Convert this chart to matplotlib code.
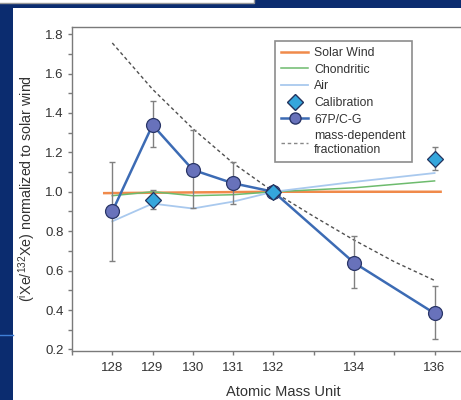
import matplotlib
matplotlib.use('Agg')
import matplotlib.pyplot as plt
from matplotlib.patches import Rectangle
from matplotlib.lines import Line2D
from matplotlib.ticker import MultipleLocator, FormatStrFormatter

plt.rcParams['font.family'] = ['Liberation Sans', 'DejaVu Sans']

# Xe isotope masses
masses = [128, 129, 130, 131, 132, 134, 136]

# reference compositions normalized to solar wind
solar_x = [127.8, 132, 136.15]
solar_y = [0.993, 1.0, 1.0]
chondritic = [0.98, 1.0, 0.98, 0.985, 1.0, 1.02, 1.055]
air = [0.85, 0.94, 0.915, 0.95, 1.0, 1.05, 1.095]

# calibration measurements
calib_x = [129, 132, 136]
calib_y = [0.958, 1.0, 1.165]
calib_lo = [0.913, 1.0, 1.108]
calib_hi = [1.009, 1.0, 1.226]

# 67P/C-G measurements
comet_y = [0.90, 1.339, 1.111, 1.043, 1.0, 0.640, 0.383]
comet_lo = [0.649, 1.226, 0.916, 0.937, 1.0, 0.513, 0.251]
comet_hi = [1.150, 1.463, 1.314, 1.153, 1.0, 0.777, 0.522]

# mass-dependent fractionation curve
frac_x = [128, 129, 130, 131, 132, 133, 134, 135, 136]
frac_y = [1.755, 1.52, 1.32, 1.145, 1.0, 0.875, 0.755, 0.645, 0.55]

navy = '#0b2c6f'
fig = plt.figure(figsize=(4.61, 4.0), dpi=100, facecolor=navy)

# slide background pieces
fig.patches.append(Rectangle((13 / 461, 0), 1, 1 - 8 / 400, transform=fig.transFigure,
                             facecolor='white', edgecolor='none', zorder=-10))
fig.patches.append(Rectangle((-0.01, 1 - 3 / 400), 259 / 461, 0.02, transform=fig.transFigure,
                             facecolor='white', edgecolor='#9a9a9a', linewidth=1, zorder=-10))
fig.lines.append(Line2D([0, 13 / 461], [1 - 335 / 400] * 2, transform=fig.transFigure,
                        color='#3f7fd6', linewidth=1))

ax = fig.add_axes([72 / 461, 49 / 400, 423 / 461, 324 / 400])
ax.set_facecolor('white')

ax.plot(frac_x, frac_y, color='#505050', linestyle=(0, (2.5, 2)), linewidth=1, zorder=2)
ax.plot(solar_x, solar_y, color='#f08a4b', linewidth=1.8, zorder=3)
ax.plot(masses, chondritic, color='#6dbb6d', linewidth=1.1, zorder=3)
ax.plot(masses, air, color='#a9c9ee', linewidth=1.3, zorder=3)

err_c = [[y - lo for y, lo in zip(calib_y, calib_lo)], [hi - y for y, hi in zip(calib_y, calib_hi)]]
ax.errorbar(calib_x, calib_y, yerr=err_c, fmt='none', ecolor='#808080', elinewidth=1,
            capsize=2.5, capthick=1, zorder=4)
ax.plot(calib_x, calib_y, linestyle='none', marker='D', markersize=8, markerfacecolor='#35a6dc',
        markeredgecolor='#23335e', markeredgewidth=0.9, zorder=7)

err_p = [[y - lo for y, lo in zip(comet_y, comet_lo)], [hi - y for y, hi in zip(comet_y, comet_hi)]]
ax.errorbar(masses, comet_y, yerr=err_p, fmt='none', ecolor='#808080', elinewidth=1,
            capsize=2.5, capthick=1, zorder=4)
ax.plot(masses, comet_y, color='#3c6bb4', linewidth=1.8, marker='o', markersize=10,
        markerfacecolor='#6872bb', markeredgecolor='#2a3668', markeredgewidth=0.9, zorder=6)

ax.set_xlim(127, 137.5)
ax.set_ylim(0.192, 1.836)
ax.set_xticks(masses)
ax.xaxis.set_minor_locator(MultipleLocator(1))
ax.yaxis.set_major_locator(MultipleLocator(0.2))
ax.yaxis.set_minor_locator(MultipleLocator(0.1))
ax.yaxis.set_major_formatter(FormatStrFormatter('%.1f'))

for s in ax.spines.values():
    s.set_color('#7a7a7a')
    s.set_linewidth(1)
ax.tick_params(which='both', direction='out', color='#7a7a7a', width=1, length=3,
               labelsize=9.5, labelcolor='#333333', pad=3)
ax.tick_params(axis='x', pad=5)

ax.set_ylabel(r'($^{\mathregular{i}}$Xe/$^{\mathregular{132}}$Xe) normalized to solar wind',
              fontsize=10.3, color='#333333', labelpad=6)
ax.set_xlabel('Atomic Mass Unit', fontsize=10.5, color='#333333', labelpad=8)

handles = [
    Line2D([], [], color='#f08a4b', linewidth=1.8),
    Line2D([], [], color='#6dbb6d', linewidth=1.1),
    Line2D([], [], color='#a9c9ee', linewidth=1.3),
    Line2D([], [], linestyle='none', marker='D', markersize=8, markerfacecolor='#35a6dc',
           markeredgecolor='#23335e'),
    Line2D([], [], color='#3c6bb4', linewidth=1.8, marker='o', markersize=8,
           markerfacecolor='#6872bb', markeredgecolor='#2a3668'),
    Line2D([], [], color='#888888', linestyle=(0, (2.5, 2)), linewidth=1),
]
labels = ['Solar Wind', 'Chondritic', 'Air', 'Calibration', '67P/C-G',
          'mass-dependent\nfractionation']
leg = fig.legend(handles, labels, loc='upper left', bbox_to_anchor=(275 / 461, 1 - 41 / 400),
                 borderaxespad=0, fontsize=8.8, frameon=True, fancybox=False, handlelength=2.2,
                 handletextpad=0.5, labelspacing=0.38, borderpad=0.5, labelcolor='#333333')
leg.get_frame().set_edgecolor('#707070')
leg.get_frame().set_linewidth(1.2)

fig.savefig('out.png', dpi=100, facecolor=navy)
